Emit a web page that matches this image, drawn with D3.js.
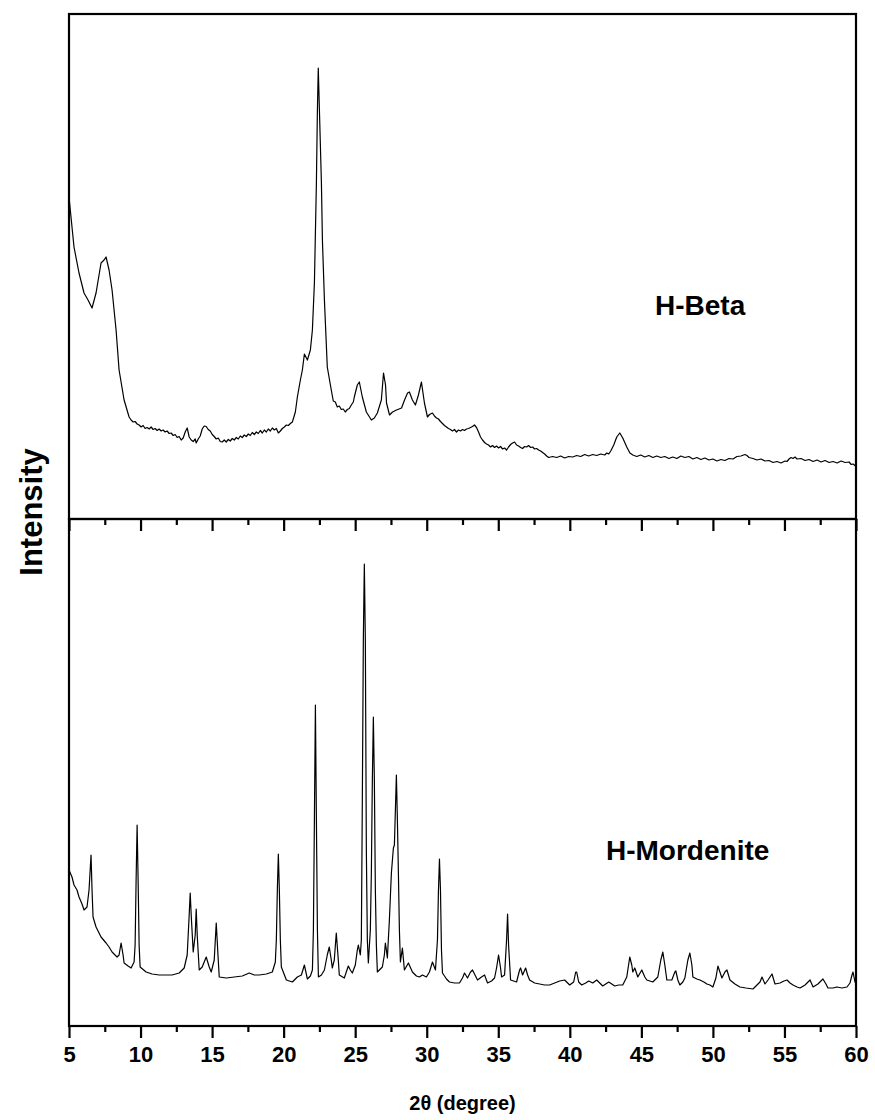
<!DOCTYPE html>
<html>
<head>
<meta charset="utf-8">
<script src="https://cdn.jsdelivr.net/npm/d3@7"></script>
<style>
  body { margin: 0; background: #fff; }
  text { font-family: "Liberation Sans", Arial, sans-serif; font-weight: bold; }
</style>
</head>
<body>
<div id="chart"></div>
<script>
// XRD patterns: 2theta (degree) and intensity (a.u.)
const betaTheta = [
  5.00,5.35,5.70,6.05,6.33,6.61,6.89,7.24,7.45,7.59,7.80,8.01,8.29,8.50,8.85,
  9.20,9.34,9.48,9.62,9.76,9.90,10.04,10.18,10.32,10.46,10.60,10.74,10.88,11.02,11.16,11.30,11.44,11.58,11.72,11.86,12.00,12.14,12.28,12.42,12.56,12.70,12.84,12.98,13.12,13.26,13.40,13.54,13.68,13.82,13.89,14.03,14.17,14.31,14.45,14.59,14.73,14.87,15.01,15.15,15.29,15.43,15.57,15.71,15.85,15.99,16.13,16.27,16.41,16.55,16.69,16.83,16.97,17.11,17.25,17.39,17.53,17.67,17.81,17.95,18.09,18.23,18.37,18.51,18.65,18.79,18.93,19.07,19.21,19.35,19.49,19.63,19.77,19.91,20.05,20.19,20.33,20.47,20.61,
  20.82,20.96,21.17,21.31,21.45,21.66,21.87,22.01,22.15,22.29,22.36,22.42,22.50,22.64,22.71,22.85,23.05,23.33,23.47,23.61,23.75,23.89,24.03,24.17,24.31,24.45,24.59,24.73,24.87,24.94,25.15,25.29,25.50,25.78,26.13,26.34,26.55,26.83,26.98,27.12,27.19,27.40,27.61,27.89,28.24,28.45,28.66,28.79,29.00,29.21,29.42,29.63,29.84,
  30.05,30.19,30.40,30.54,30.68,30.82,30.96,31.10,31.24,31.38,31.52,31.66,31.80,31.94,32.08,32.22,32.36,32.50,32.64,32.78,32.92,33.06,33.20,33.34,33.48,33.62,33.76,33.90,34.04,34.18,34.32,34.46,34.60,34.74,34.88,35.02,35.16,35.30,35.44,35.58,35.72,35.86,36.00,36.14,36.28,36.42,36.56,36.70,36.84,36.98,37.12,37.26,37.40,37.54,37.68,37.82,37.96,38.10,38.24,38.38,
  38.52,38.80,39.08,39.36,39.64,39.92,40.20,40.48,40.76,41.04,41.32,41.60,41.88,42.16,42.44,42.58,42.72,42.86,43.07,43.28,43.49,43.70,43.98,44.20,44.40,
  44.68,44.96,45.24,45.52,45.80,46.08,46.36,46.64,46.92,47.20,47.48,47.76,48.04,48.32,48.60,48.88,49.16,49.44,49.72,50.00,50.28,50.56,50.84,51.12,51.40,51.68,51.96,52.24,52.38,52.52,52.80,53.08,53.36,53.64,53.92,54.20,54.48,54.76,55.04,55.18,55.32,55.46,55.60,55.74,55.88,56.16,56.44,56.72,57.00,57.28,57.56,57.84,58.12,58.40,58.68,58.96,59.24,59.52,59.66,59.80,60.00
];
const betaCounts = [
  3220,2720,2460,2260,2190,2110,2260,2560,2590,2620,2490,2290,1890,1490,1190,
  1020,990,970,975,950,940,920,935,905,915,900,920,895,905,885,900,880,890,870,880,855,860,835,845,815,825,790,810,870,910,820,790,775,800,760,800,830,900,930,925,895,880,845,825,800,810,775,770,790,770,795,780,805,790,815,800,830,815,840,825,850,835,865,845,870,855,885,860,890,870,900,880,910,890,905,860,880,905,920,940,935,955,970,
  1070,1220,1390,1490,1650,1590,1690,1890,2360,3360,4090,4510,4090,3360,2790,2190,1520,1290,1180,1170,1120,1130,1095,1100,1070,1095,1105,1140,1170,1220,1340,1370,1220,1070,990,1010,1060,1190,1460,1340,1160,1040,1070,1090,1110,1190,1260,1270,1190,1140,1240,1370,1160,
  1020,1045,1060,1030,1010,1000,975,955,935,920,905,895,880,895,870,890,880,895,885,900,905,915,925,940,915,870,820,790,765,750,740,720,735,715,730,710,725,700,710,690,720,745,760,770,740,730,715,705,725,720,735,715,720,700,705,690,680,665,650,630,
  615,625,615,630,610,625,620,635,625,645,630,645,635,650,640,660,650,680,740,820,860,810,720,660,640,
  625,640,620,635,615,630,615,625,605,620,605,630,615,625,600,615,595,610,590,600,580,595,585,605,600,625,630,645,635,615,605,590,600,580,585,565,575,560,580,575,600,615,605,620,600,605,585,595,575,590,570,585,565,575,560,580,565,570,545,550,525
];

const mordTheta = [5.00,5.21,5.35,5.56,5.70,5.91,6.05,6.26,6.40,6.54,6.61,6.68,6.89,7.24,7.59,7.80,8.01,8.36,8.50,8.64,8.78,8.85,9.13,9.34,9.55,9.62,9.69,9.76,9.83,9.90,9.97,10.39,10.81,11.30,11.79,12.21,12.70,13.05,13.26,13.40,13.47,13.54,13.68,13.82,13.89,13.96,14.10,14.31,14.59,14.80,14.94,15.15,15.29,15.43,15.50,15.99,16.55,17.11,17.60,17.95,18.30,18.79,19.21,19.42,19.49,19.56,19.63,19.70,19.77,19.84,20.19,20.61,20.96,21.24,21.45,21.66,21.87,22.01,22.08,22.15,22.22,22.29,22.36,22.43,22.64,22.85,23.05,23.19,23.33,23.40,23.54,23.68,23.82,23.89,24.24,24.38,24.52,24.66,24.80,25.01,25.15,25.22,25.36,25.43,25.50,25.57,25.64,25.71,25.78,25.85,25.92,26.06,26.13,26.20,26.27,26.34,26.41,26.48,26.55,26.90,27.04,27.11,27.18,27.25,27.39,27.53,27.67,27.74,27.81,27.88,27.95,28.02,28.09,28.16,28.30,28.44,28.72,29.00,29.28,29.49,29.70,29.98,30.19,30.40,30.61,30.75,30.82,30.89,30.96,31.03,31.10,31.38,31.59,31.94,32.29,32.50,32.64,32.85,33.06,33.20,33.41,33.55,33.83,34.04,34.25,34.53,34.74,34.88,35.02,35.16,35.23,35.44,35.58,35.65,35.72,35.86,36.07,36.28,36.49,36.56,36.70,36.91,37.05,37.19,37.54,37.89,38.24,38.59,38.94,39.29,39.64,39.99,40.27,40.41,40.48,40.62,40.83,41.11,41.32,41.60,41.88,42.09,42.30,42.72,42.93,43.14,43.42,43.70,43.98,44.19,44.33,44.40,44.54,44.75,45.03,45.24,45.38,45.59,45.80,46.01,46.15,46.36,46.50,46.64,46.78,47.13,47.34,47.41,47.55,47.69,47.90,48.04,48.25,48.39,48.53,48.60,48.88,49.09,49.37,49.58,49.79,50.00,50.21,50.35,50.49,50.63,50.84,50.98,51.19,51.54,51.89,52.31,52.80,53.08,53.29,53.43,53.64,53.85,54.13,54.34,54.69,54.97,55.18,55.39,55.60,55.88,56.09,56.44,56.79,57.00,57.34,57.69,57.90,58.04,58.39,58.67,59.02,59.37,59.58,59.72,59.79,59.93,60.00];
const mordCounts = [1560,1490,1410,1360,1290,1220,1160,1190,1360,1710,1360,1090,990,890,830,790,740,690,710,830,710,630,600,580,640,810,1460,2010,1460,810,590,540,520,510,510,510,530,580,710,1110,1330,1110,740,910,1170,910,560,590,690,590,540,660,1030,660,490,480,490,500,530,510,510,520,540,640,860,1360,1720,1360,860,590,460,440,490,510,610,470,500,560,960,2060,3210,2060,960,490,510,560,710,790,660,580,660,930,660,510,480,540,600,560,530,610,760,810,710,860,2260,3860,4620,3860,1760,860,630,960,1530,2460,3090,2460,1360,810,540,590,710,830,760,680,1060,1530,1780,1810,2160,2510,2060,1530,960,640,780,560,630,540,500,490,510,490,540,640,560,860,1360,1670,1360,760,530,470,440,430,430,480,530,480,540,560,500,460,490,510,430,450,480,580,710,580,490,510,860,1120,810,460,450,440,560,580,510,580,510,460,430,420,410,410,430,450,460,410,440,540,540,440,410,430,450,430,460,430,400,440,420,400,410,410,490,690,610,540,580,490,560,490,460,450,440,470,490,660,740,610,460,460,540,550,460,410,440,480,660,730,610,490,470,460,440,420,410,390,480,600,540,480,540,560,460,420,390,380,370,410,440,490,420,460,520,420,430,450,460,430,410,390,380,410,460,390,420,470,420,380,380,390,380,390,430,510,540,440,430];

const sampleNames = ['H-Beta', 'H-Mordenite'];
const majorTicks = [5, 10, 15, 20, 25, 30, 35, 40, 45, 50, 55, 60];
const minorTicks = [7.5, 12.5, 17.5, 22.5, 27.5, 32.5, 37.5, 42.5, 47.5, 52.5, 57.5];

const width = 875;
const height = 1120;
const left = 69;
const right = 856;
const panels = [
  { top: 14, bottom: 519, theta: betaTheta, counts: betaCounts, name: sampleNames[0], lx: 655, ly: 315 },
  { top: 519, bottom: 1026, theta: mordTheta, counts: mordCounts, name: sampleNames[1], lx: 606, ly: 860 },
];

const svg = d3.select('#chart')
  .append('svg')
  .attr('width', width)
  .attr('height', height);

const x = d3.scaleLinear().domain([5, 60]).range([left, right]);

panels.forEach((p, i) => {
  const y = d3.scaleLinear().domain([0, (p.bottom - p.top) * 10]).range([p.bottom, p.top]);
  const pts = p.theta.map((t, k) => [t, p.counts[k]]);

  const line = d3.line()
    .x(d => x(d[0]))
    .y(d => y(d[1]));

  svg.append('path')
    .datum(pts)
    .attr('d', line)
    .attr('fill', 'none')
    .attr('stroke', '#000')
    .attr('stroke-width', 1.2)
    .attr('stroke-linejoin', 'round');

  svg.append('rect')
    .attr('x', left)
    .attr('y', p.top)
    .attr('width', right - left)
    .attr('height', p.bottom - p.top)
    .attr('fill', 'none')
    .attr('stroke', '#000')
    .attr('stroke-width', 2.2);

  const major = svg.append('g')
    .attr('transform', `translate(0,${p.bottom})`)
    .call(d3.axisBottom(x).tickValues(majorTicks).tickSize(12).tickPadding(8)
      .tickFormat(i === 1 ? d3.format('d') : () => ''));
  major.select('.domain').remove();
  major.selectAll('line').attr('stroke-width', 2.2);
  major.selectAll('text')
    .attr('font-size', 22)
    .attr('fill', '#000');

  const minor = svg.append('g')
    .attr('transform', `translate(0,${p.bottom})`)
    .call(d3.axisBottom(x).tickValues(minorTicks).tickSize(6).tickFormat(() => ''));
  minor.select('.domain').remove();
  minor.selectAll('line').attr('stroke-width', 2.2);

  svg.append('text')
    .attr('x', p.lx)
    .attr('y', p.ly)
    .attr('font-size', 28)
    .text(p.name);
});

svg.append('text')
  .attr('x', (left + right) / 2)
  .attr('y', 1110)
  .attr('text-anchor', 'middle')
  .attr('font-size', 20)
  .text('2θ (degree)');

svg.append('text')
  .attr('transform', `translate(42,512) rotate(-90)`)
  .attr('text-anchor', 'middle')
  .attr('font-size', 31)
  .text('Intensity');
</script>
</body>
</html>
